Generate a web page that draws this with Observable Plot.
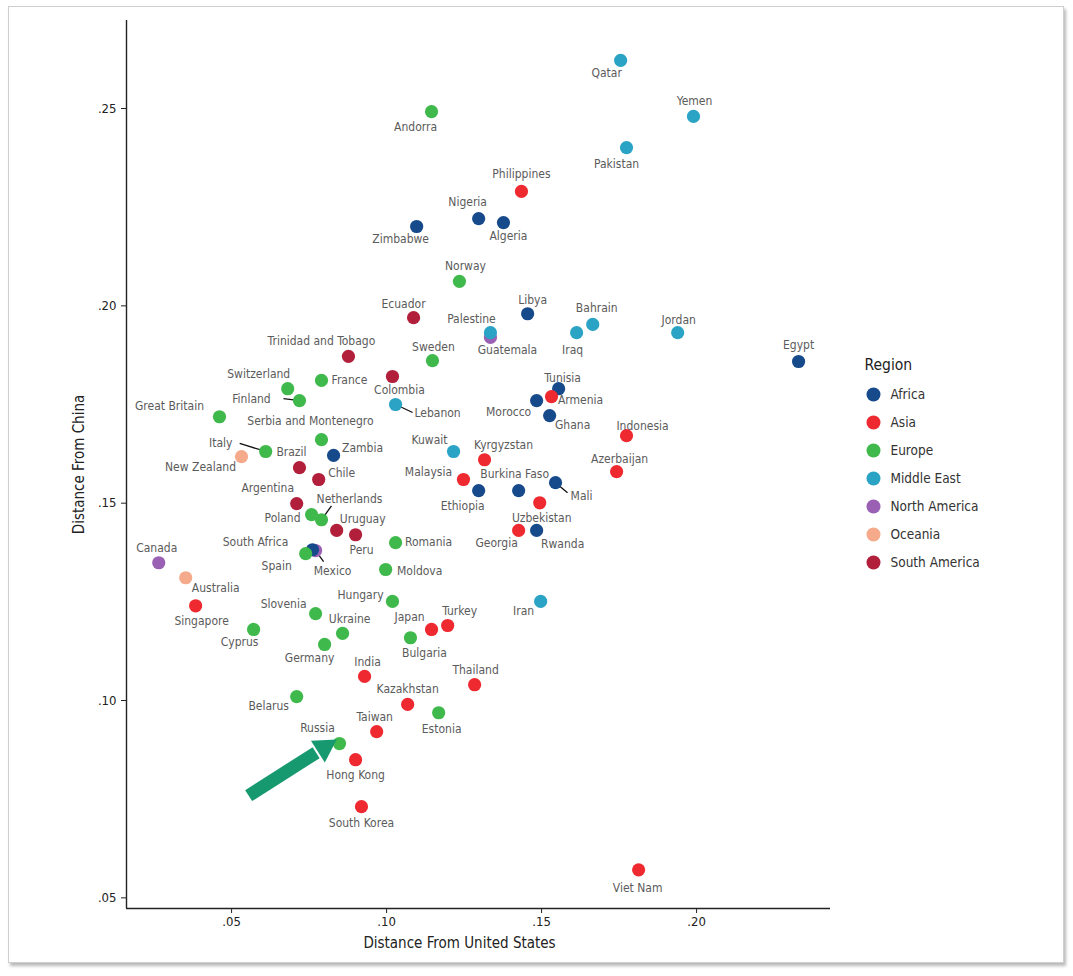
<!DOCTYPE html>
<html><head><meta charset="utf-8">
<script src="https://cdn.jsdelivr.net/npm/d3@7"></script>
<script src="https://cdn.jsdelivr.net/npm/@observablehq/plot@0.6"></script>
<style>
body{margin:0;background:#fff;font-family:"DejaVu Sans Condensed","Liberation Sans",sans-serif;}
#card{position:absolute;left:8px;top:6px;width:1054px;height:955px;border:1px solid #cfcfcf;box-shadow:2px 3px 3px rgba(0,0,0,0.28);background:#fff;}
#chart{position:absolute;left:0;top:0;}
#legend{position:absolute;left:850px;top:340px;}
</style></head><body>
<div id="card"></div><div id="chart"></div><div id="legend"></div>
<script>
// ---------- data ----------
const regions = ["Africa","Asia","Europe","Middle East","North America","Oceania","South America"];
const regionColors = ["#174a8b","#ee2a30","#3fb94b","#2aa3c4","#9a60b4","#f5aa8c","#b11f3a"];

const countries = ["Qatar","Yemen","Pakistan","Andorra","Philippines","Nigeria","Algeria","Zimbabwe","Norway","Libya",
"Ecuador","Guatemala","Palestine","Bahrain","Iraq","Jordan","Egypt","Trinidad and Tobago","Sweden","Colombia",
"Lebanon","France","Switzerland","Finland","Great Britain","Serbia and Montenegro","Zambia","Italy","New Zealand","Brazil",
"Chile","Argentina","Poland","Netherlands","Uruguay","Peru","Mexico","South Africa","Spain","Canada",
"Australia","Kuwait","Kyrgyzstan","Tunisia","Armenia","Morocco","Ghana","Indonesia","Azerbaijan","Malaysia",
"Ethiopia","Burkina Faso","Mali","Uzbekistan","Georgia","Rwanda","Romania","Moldova","Iran","Singapore",
"Slovenia","Hungary","Ukraine","Cyprus","Germany","Japan","Turkey","Bulgaria","India","Thailand",
"Belarus","Kazakhstan","Estonia","Taiwan","Russia","Hong Kong","South Korea","Viet Nam"];

const distanceFromUS = [0.1755,0.1990,0.1774,0.1145,0.1435,0.1297,0.1377,0.1097,0.1235,0.1455,
0.1087,0.1335,0.1335,0.1665,0.1613,0.1939,0.2329,0.0877,0.1148,0.1019,
0.1029,0.0790,0.0681,0.0719,0.0461,0.0790,0.0829,0.0610,0.0532,0.0719,
0.0781,0.0710,0.0758,0.0790,0.0839,0.0900,0.0771,0.0761,0.0739,0.0265,
0.0352,0.1216,0.1316,0.1555,0.1532,0.1484,0.1526,0.1774,0.1742,0.1248,
0.1297,0.1426,0.1545,0.1494,0.1426,0.1484,0.1029,0.0997,0.1497,0.0384,
0.0771,0.1019,0.0858,0.0571,0.0800,0.1145,0.1197,0.1077,0.0929,0.1284,
0.0710,0.1068,0.1168,0.0968,0.0848,0.0900,0.0919,0.1813];

const distanceFromChina = [0.2622,0.2480,0.2401,0.2492,0.2290,0.2221,0.2211,0.2201,0.2062,0.1980,
0.1970,0.1920,0.1932,0.1953,0.1932,0.1932,0.1859,0.1872,0.1861,0.1821,
0.1750,0.1811,0.1790,0.1760,0.1719,0.1661,0.1621,0.1631,0.1618,0.1590,
0.1560,0.1499,0.1471,0.1458,0.1431,0.1420,0.1380,0.1382,0.1372,0.1349,
0.1311,0.1631,0.1610,0.1790,0.1770,0.1760,0.1722,0.1671,0.1580,0.1560,
0.1532,0.1532,0.1552,0.1501,0.1431,0.1431,0.1400,0.1332,0.1251,0.1240,
0.1220,0.1251,0.1170,0.1180,0.1142,0.1180,0.1190,0.1159,0.1061,0.1040,
0.1010,0.0990,0.0969,0.0921,0.0891,0.0850,0.0731,0.0571];

const regionOf = ["Middle East","Middle East","Middle East","Europe","Asia","Africa","Africa","Africa","Europe","Africa",
"South America","North America","Middle East","Middle East","Middle East","Middle East","Africa","South America","Europe","South America",
"Middle East","Europe","Europe","Europe","Europe","Europe","Africa","Europe","Oceania","South America",
"South America","South America","Europe","Europe","South America","South America","North America","Africa","Europe","North America",
"Oceania","Middle East","Asia","Africa","Asia","Africa","Africa","Asia","Asia","Asia",
"Africa","Africa","Africa","Asia","Asia","Africa","Europe","Europe","Middle East","Asia",
"Europe","Europe","Europe","Europe","Europe","Asia","Asia","Europe","Asia","Asia",
"Europe","Asia","Europe","Asia","Europe","Asia","Asia","Asia"];

const xTicks = [0.05,0.10,0.15,0.20];
const yTicks = [0.05,0.10,0.15,0.20,0.25];

// annotation arrow (data units): tail and tip
const arrowAnnotation = {from: {us: 0.0555, china: 0.0759}, to: {us: 0.0819, china: 0.0891}};

// ---------- layout (pixel offsets of labels from their dots) ----------
const labelOffsets = {
"Qatar":[-14,13],"Yemen":[1,-15],"Pakistan":[-10,17],"Andorra":[-16,15],"Philippines":[0,-17],"Nigeria":[-11,-16],
"Algeria":[5,14],"Zimbabwe":[-16,13],"Norway":[6,-15],"Libya":[5,-14],"Ecuador":[-10,-14],"Guatemala":[17,13],
"Palestine":[-19,-14],"Bahrain":[4,-16],"Iraq":[-4,17],"Jordan":[1,-13],"Egypt":[0,-16],"Trinidad and Tobago":[-27,-15],
"Sweden":[1,-14],"Colombia":[7,14],"Lebanon":[42,9],"France":[28,0],"Switzerland":[-29,-15],"Finland":[-48,-1],
"Great Britain":[-50,-11],"Serbia and Montenegro":[-11,-18],"Zambia":[29,-7],"Italy":[-45,-8],"New Zealand":[-41,11],
"Brazil":[-8,-16],"Chile":[23,-6],"Argentina":[-29,-15],"Poland":[-29,4],"Netherlands":[28,-21],"Uruguay":[26,-11],
"Peru":[6,15],"Mexico":[17,21],"South Africa":[-57,-8],"Spain":[-29,12],"Canada":[-2,-15],"Australia":[30,10],
"Kuwait":[-24,-11],"Kyrgyzstan":[19,-15],"Tunisia":[4,-11],"Armenia":[29,4],"Morocco":[-28,12],"Ghana":[23,10],
"Indonesia":[16,-10],"Azerbaijan":[3,-12],"Malaysia":[-35,-7],"Ethiopia":[-16,16],"Burkina Faso":[-4,-16],"Mali":[26,14],
"Uzbekistan":[2,15],"Georgia":[-22,13],"Rwanda":[26,14],"Romania":[33,0],"Moldova":[34,2],"Iran":[-17,10],
"Singapore":[6,15],"Slovenia":[-32,-10],"Hungary":[-32,-6],"Ukraine":[7,-14],"Cyprus":[-14,13],"Germany":[-15,14],
"Japan":[-22,-12],"Turkey":[12,-14],"Bulgaria":[14,15],"India":[3,-14],"Thailand":[1,-15],"Belarus":[-28,10],
"Kazakhstan":[0,-15],"Estonia":[3,16],"Taiwan":[-2,-15],"Russia":[-22,-15],"Hong Kong":[0,15],"South Korea":[0,16],
"Viet Nam":[-1,18]};
const leaderOffsets = {"Finland":[-16,-2],"Italy":[-26,-8],"Lebanon":[17,8],"Netherlands":[10,-14],"Mexico":[8,11],"Mali":[12,10]};

// ---------- chart ----------
const W = 845, H = 965, ML = 126, MR = 15, MT = 20, MB = 57;
const xDomain = [0.0161, 0.2432], yDomain = [0.0473, 0.2723];
const kx = (W - ML - MR) / (xDomain[1] - xDomain[0]);
const ky = (H - MT - MB) / (yDomain[1] - yDomain[0]);
const fmt = d => d3.format(".2f")(d).replace(/^0/, "");
const FONT = '"DejaVu Sans Condensed","Liberation Sans",sans-serif';

const points = countries.map((name, i) => ({name, us: distanceFromUS[i], china: distanceFromChina[i], region: regionOf[i]}));
const labels = points.map(p => {
  const [ox, oy] = labelOffsets[p.name] || [0, -15];
  return {name: p.name, lx: p.us + ox / kx, ly: p.china - oy / ky};
});
const leaders = points.filter(p => leaderOffsets[p.name]).map(p => {
  const [ox, oy] = leaderOffsets[p.name];
  return {x1: p.us, y1: p.china, x2: p.us + ox / kx, y2: p.china - oy / ky};
});

// arrow geometry in screen units
const sx = (arrowAnnotation.to.us - arrowAnnotation.from.us) * kx;
const sy = -(arrowAnnotation.to.china - arrowAnnotation.from.china) * ky;
const slen = Math.hypot(sx, sy), ux = sx / slen, uy = sy / slen;
const headBack = 17;
const shaft = [{x1: arrowAnnotation.from.us, y1: arrowAnnotation.from.china,
  x2: arrowAnnotation.to.us - headBack * ux / kx, y2: arrowAnnotation.to.china + headBack * uy / ky}];
const headAngle = Math.atan2(ux, -uy) * 180 / Math.PI;
const headR = 9.6, tipDist = 2 * Math.sqrt(headR * headR * Math.PI / (3 * Math.sqrt(3)));

const chart = Plot.plot({
  width: W, height: H,
  marginLeft: ML, marginRight: MR, marginTop: MT, marginBottom: MB,
  style: {fontFamily: FONT, fontSize: "12px", color: "#222", background: "transparent"},
  x: {domain: xDomain},
  y: {domain: yDomain},
  color: {domain: regions, range: regionColors},
  marks: [
    Plot.axisX({ticks: xTicks, tickFormat: fmt, tickSize: 5, tickPadding: 3, fontSize: 13, label: null}),
    Plot.axisY({ticks: yTicks, tickFormat: fmt, tickSize: 5, tickPadding: 5, fontSize: 13, label: null}),
    Plot.ruleX([xDomain[0]], {stroke: "#222", strokeWidth: 1.4}),
    Plot.ruleY([yDomain[0]], {stroke: "#222", strokeWidth: 1.4}),
    Plot.link(leaders, {x1: "x1", y1: "y1", x2: "x2", y2: "y2", stroke: "#111", strokeWidth: 1.3}),
    Plot.dot(points, {x: "us", y: "china", fill: "region", r: 6.6}),
    Plot.text(labels, {x: "lx", y: "ly", text: "name", fill: "#5b5b5b", fontSize: 12}),
    Plot.link(shaft, {x1: "x1", y1: "y1", x2: "x2", y2: "y2", stroke: "#17996f", strokeWidth: 13}),
    Plot.dot([arrowAnnotation.to], {x: "us", y: "china", symbol: "triangle", r: headR, fill: "#17996f",
      rotate: headAngle, dx: -tipDist / 2 * ux, dy: -tipDist / 2 * uy}),
    Plot.text(["Distance From United States"], {frameAnchor: "bottom", lineAnchor: "middle", textAnchor: "middle",
      dx: -19, dy: 35, fontSize: 15, fill: "#222"}),
    Plot.text(["Distance From China"], {frameAnchor: "left", lineAnchor: "middle", textAnchor: "middle",
      rotate: -90, dx: -47, fontSize: 15, fill: "#222"})
  ]
});
document.getElementById("chart").appendChild(chart);

// ---------- legend ----------
const legend = Plot.plot({
  width: 210, height: 240, margin: 0,
  style: {fontFamily: FONT, color: "#222", background: "transparent"},
  x: {domain: [0, 1], range: [23, 50], axis: null},
  y: {type: "point", domain: regions, range: [53, 223], padding: 0, axis: null},
  color: {domain: regions, range: regionColors},
  marks: [
    Plot.text(["Region"], {frameAnchor: "top-left", lineAnchor: "middle", dx: 14, dy: 25, textAnchor: "start", fontSize: 15.5, fill: "#222"}),
    Plot.dot(regions, {x: () => 0, y: d => d, fill: d => d, r: 7}),
    Plot.text(regions, {x: () => 0, y: d => d, text: d => d, dx: 17, textAnchor: "start", fontSize: 13.5, fill: "#333"})
  ]
});
document.getElementById("legend").appendChild(legend);
</script></body></html>
